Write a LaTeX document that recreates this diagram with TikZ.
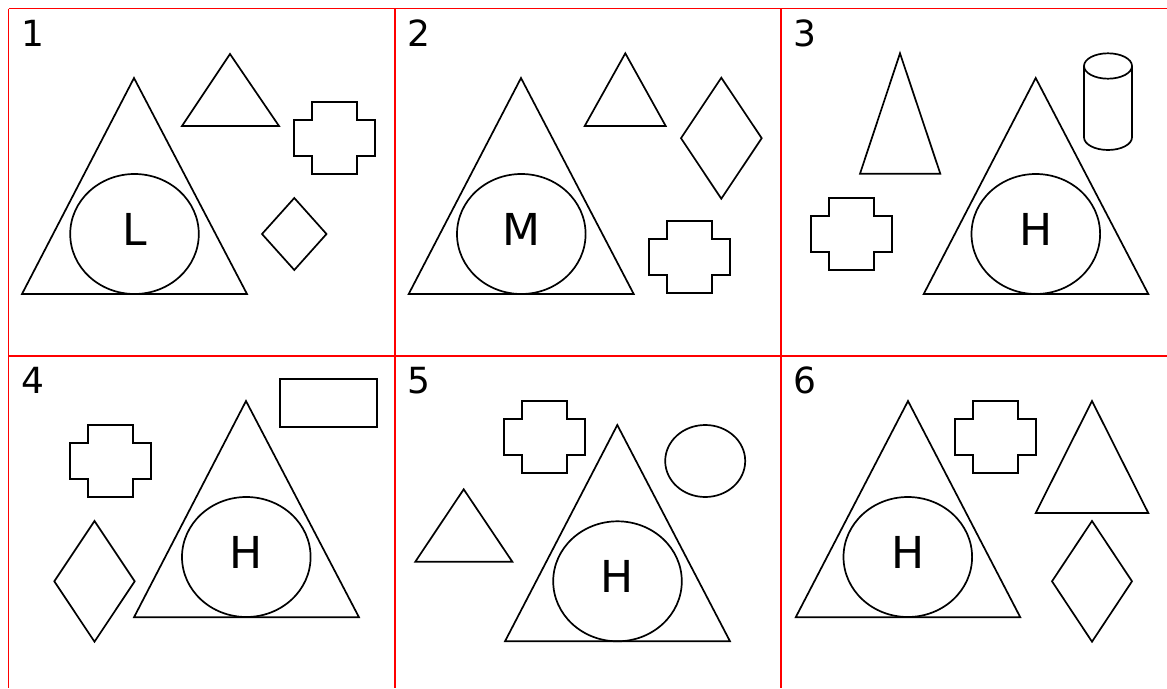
\documentclass[tikz,border=0pt]{standalone}
\usepackage{fontspec}
\setmainfont{DejaVu Sans}
\begin{document}
\begin{tikzpicture}[x=1pt,y=-1pt,
  shp/.style={draw=black,line width=1.7pt,line join=miter},
  gridline/.style={draw=red,line width=1.8pt},
  numlabel/.style={anchor=base west,inner sep=0pt,font=\fontsize{36}{40}\selectfont},
  letter/.style={anchor=base,inner sep=0pt,font=\fontsize{44}{50}\selectfont},
  crossp/.pic={\draw[shp] (18,0) -- (63,0) -- (63,18) -- (81,18) -- (81,54) -- (63,54) -- (63,72) -- (18,72) -- (18,54) -- (0,54) -- (0,18) -- (18,18) -- cycle;}
]
\useasboundingbox[fill=white] (0,0) rectangle (1167,688);
% grid
\coordinate (gTL) at (8.5,8.5);
\coordinate (gTR) at (1167,8.5);
\coordinate (gML) at (8.5,355.8);
\coordinate (gMR) at (1167,355.8);
\coordinate (gB1) at (8.5,688);
\coordinate (gT2) at (395,8.5);
\coordinate (gB2) at (395,688);
\coordinate (gT3) at (781,8.5);
\coordinate (gB3) at (781,688);
\draw[gridline] (gTL) -- (gTR);
\draw[gridline] (gML) -- (gMR);
\draw[gridline] (gTL) -- (gB1);
\draw[gridline] (gT2) -- (gB2);
\draw[gridline] (gT3) -- (gB3);
% labels
\node[numlabel] (n1) at (21,46) {1};
\node[numlabel] (n2) at (407,46) {2};
\node[numlabel] (n3) at (793,46) {3};
\node[numlabel] (n4) at (21,393) {4};
\node[numlabel] (n5) at (407,393) {5};
\node[numlabel] (n6) at (793,393) {6};
% ---------- panel 1
\draw[shp] (134,78) -- (22,294) -- (247,294) -- cycle;
\draw[shp] (134.5,234) ellipse [x radius=64.3,y radius=60];
\node[letter] (l1) at (134.5,245) {L};
\draw[shp] (230,54) -- (182,126) -- (279,126) -- cycle;
\pic at (294,102) {crossp};
\draw[shp] (294.3,198) -- (326.5,234) -- (294.3,270) -- (262,234) -- cycle;
% ---------- panel 2
\draw[shp] (521,78) -- (408.7,294) -- (633.7,294) -- cycle;
\draw[shp] (521.3,234) ellipse [x radius=64.3,y radius=60];
\node[letter] (l2) at (521.3,245) {M};
\draw[shp] (625.3,53.3) -- (584.7,126) -- (665.7,126) -- cycle;
\draw[shp] (721.3,77.7) -- (761.7,138.2) -- (721.3,198.7) -- (681,138.2) -- cycle;
\pic at (648.7,221.3) {crossp};
% ---------- panel 3
\draw[shp] (900,53.3) -- (860,173.7) -- (940.3,173.7) -- cycle;
\draw[shp] (1035.7,78) -- (923.7,294) -- (1148.3,294) -- cycle;
\draw[shp] (1035.8,234) ellipse [x radius=64.3,y radius=60];
\node[letter] (l3) at (1035.8,245) {H};
\draw[shp] (1108,66) ellipse [x radius=24,y radius=12.7];
\draw[shp] (1084,66) -- (1084,137.3) arc[start angle=180,end angle=0,x radius=24,y radius=12.7] -- (1132,66);
\pic at (811.3,197.7) {crossp};
% ---------- panel 4
\draw[shp] (280,379) rectangle (376.7,427.3);
\draw[shp] (246,401) -- (134,617.3) -- (359,617.3) -- cycle;
\draw[shp] (246.3,557) ellipse [x radius=64.3,y radius=60];
\node[letter] (l4) at (246.3,568) {H};
\pic at (69.7,425) {crossp};
\draw[shp] (94.5,521) -- (134.7,581.3) -- (94.5,641.7) -- (54.3,581.3) -- cycle;
% ---------- panel 5
\pic at (504.3,401) {crossp};
\draw[shp] (705.2,461) ellipse [x radius=40,y radius=36];
\draw[shp] (463.7,489.3) -- (415.3,561.7) -- (512.3,561.7) -- cycle;
\draw[shp] (617.3,425) -- (505,641.3) -- (730,641.3) -- cycle;
\draw[shp] (617.5,581.3) ellipse [x radius=64.3,y radius=60];
\node[letter] (l5) at (617.5,592.3) {H};
% ---------- panel 6
\draw[shp] (908,401) -- (795.7,617.3) -- (1020.3,617.3) -- cycle;
\draw[shp] (907.8,557) ellipse [x radius=64.3,y radius=60];
\node[letter] (l6) at (907.8,568) {H};
\pic at (955.3,401) {crossp};
\draw[shp] (1092,401) -- (1035.7,513) -- (1148.3,513) -- cycle;
\draw[shp] (1092,521) -- (1132,581.3) -- (1092,641.7) -- (1052,581.3) -- cycle;
\end{tikzpicture}
\end{document}
